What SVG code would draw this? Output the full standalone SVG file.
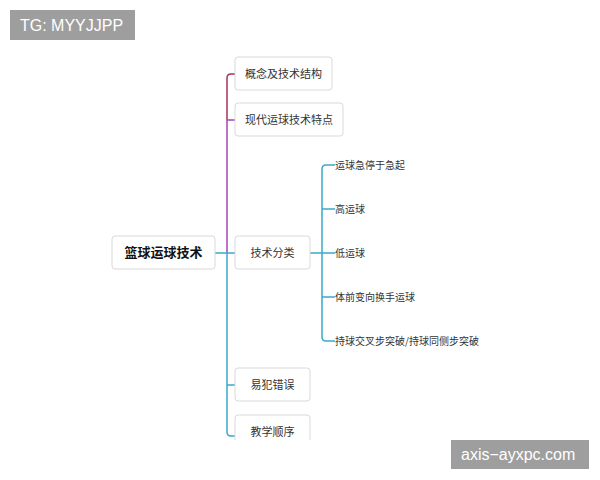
<svg xmlns="http://www.w3.org/2000/svg" width="600" height="480" viewBox="0 0 600 480">
<style>
.box{fill:#fff;stroke:#d9d9d9;stroke-width:1}
.t{font-family:"Noto Sans CJK SC","Noto Sans",sans-serif;font-size:11px;fill:#333}
.s{font-family:"Noto Sans CJK SC","Noto Sans",sans-serif;font-size:10px;fill:#333}
.c{fill:none;stroke-width:1.5}
.wm{font-family:"Liberation Sans",Arial,sans-serif;font-size:16px;fill:#fff}
</style>
<rect width="600" height="480" fill="#fff"/>
<g id="connectors">
<path class="c" stroke="#a8325a" d="M235,74 H231 Q227,74 227,78 V120"/>
<path class="c" stroke="#a446b8" d="M227,120 V253 M227,120 H235"/>
<path class="c" stroke="#3aa9c9" d="M215,253 H235 M227,253 V432 Q227,436 231,436 H235 M227,385 H235 M310,253 H322 M335,165 H326 Q322,165 322,169 V337 Q322,341 326,341 H335 M322,209 H335 M322,253 H335 M322,297 H335"/>
</g>
<g id="root"><rect class="box" x="112" y="236" width="103" height="33" rx="3"/><text x="163.5" y="257" text-anchor="middle" font-family="'Noto Sans CJK SC',sans-serif" font-size="13" font-weight="bold" fill="#111">篮球运球技术</text></g>
<g id="n1"><rect class="box" x="235" y="57" width="97" height="33" rx="3"/><text class="t" x="283.5" y="78" text-anchor="middle">概念及技术结构</text></g>
<g id="n2"><rect class="box" x="235" y="103" width="108" height="33" rx="3"/><text class="t" x="289" y="124" text-anchor="middle">现代运球技术特点</text></g>
<g id="n3"><rect class="box" x="235" y="236" width="75" height="33" rx="3"/><text class="t" x="272.5" y="257" text-anchor="middle">技术分类</text></g>
<g id="n4"><rect class="box" x="235" y="368" width="75" height="33" rx="3"/><text class="t" x="272.5" y="389" text-anchor="middle">易犯错误</text></g>
<g id="n5"><rect class="box" x="235" y="415" width="75" height="33" rx="3"/><text class="t" x="272.5" y="436" text-anchor="middle">教学顺序</text></g>
<g id="s1"><text class="s" x="335" y="169">运球急停于急起</text></g>
<g id="s2"><text class="s" x="335" y="213">高运球</text></g>
<g id="s3"><text class="s" x="335" y="257">低运球</text></g>
<g id="s4"><text class="s" x="335" y="301">体前变向换手运球</text></g>
<g id="s5"><text class="s" x="335" y="345">持球交叉步突破/持球同侧步突破</text></g>
<rect x="0" y="440" width="600" height="40" fill="#fff"/>
<rect x="10" y="10" width="125" height="30" fill="#9e9e9e"/>
<text class="wm" x="20" y="31">TG: MYYJJPP</text>
<rect x="451" y="440" width="138" height="29" fill="#9e9e9e"/>
<text class="wm" x="461" y="460">axis−ayxpc.com</text>
</svg>
